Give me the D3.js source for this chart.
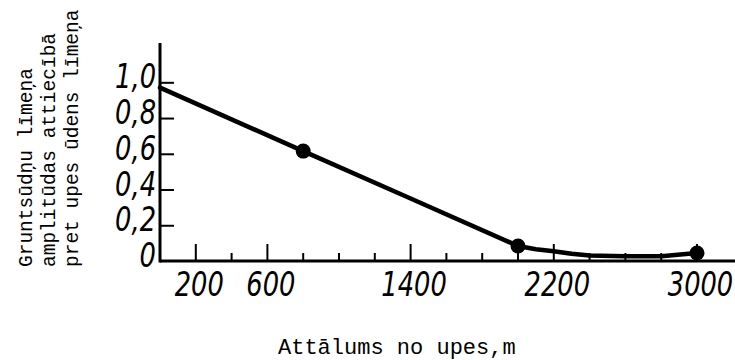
<!DOCTYPE html>
<html>
<head>
<meta charset="utf-8">
<script src="https://cdn.jsdelivr.net/npm/d3@7"></script>
<style>
  body { margin: 0; background: #fff; }
  .num { font-family: "DejaVu Sans", sans-serif; font-style: italic; font-size: 33px; fill: #000; }
  .title { font-family: "Liberation Mono", "DejaVu Sans Mono", monospace; fill: #000; }
</style>
</head>
<body>
<svg id="chart" width="735" height="360"></svg>
<script>
// distance from river (m) and relative amplitude
const lineDist = [0, 800, 1400, 2000, 2100, 2200, 2300, 2400, 2600, 2800, 3000];
const lineAmp  = [0.97, 0.615, 0.35, 0.084, 0.066, 0.054, 0.04, 0.031, 0.026, 0.027, 0.045];
const pointDist = [800, 2000, 3000];
const pointAmp  = [0.615, 0.084, 0.045];

const yTicks = [0, 0.2, 0.4, 0.6, 0.8, 1.0];
const yTickLabels = ['0', '0,2', '0,4', '0,6', '0,8', '1,0'];
const xMinorTicks = d3.range(200, 3001, 200);
const xLabelTicks = [200, 600, 1400, 2200, 3000];

const yTitle = ['Gruntsūdņu līmeņa', 'amplitūdas attiecībā', 'pret upes ūdens līmeņa'];
const xTitle = 'Attālums no upes,m';

const svg = d3.select('#chart');

const xScale = d3.scaleLinear().domain([0, 3000]).range([160, 697]);
const yScale = d3.scaleLinear().domain([0, 1.22]).range([261, 43]);
const squeeze = 'scale(0.78,1)';

// axis lines
svg.append('line')
    .attr('x1', xScale(0)).attr('x2', 735)
    .attr('y1', yScale(0)).attr('y2', yScale(0))
    .attr('stroke', '#000').attr('stroke-width', 3);
svg.append('line')
    .attr('x1', xScale(0)).attr('x2', xScale(0))
    .attr('y1', yScale(0) + 1.5).attr('y2', yScale(1.22))
    .attr('stroke', '#000').attr('stroke-width', 3);

// y ticks (drawn inside) and labels
const yAxis = d3.axisRight(yScale)
    .tickValues(yTicks.filter(d => d > 0))
    .tickSize(14)
    .tickFormat('');
svg.append('g')
    .attr('transform', `translate(${xScale(0)},0)`)
    .call(yAxis)
    .call(g => g.select('.domain').remove())
    .call(g => g.selectAll('.tick line').attr('stroke-width', 2));

svg.append('g').selectAll('text')
    .data(yTicks)
    .join('text')
    .attr('class', 'num')
    .attr('text-anchor', 'end')
    .attr('transform', d => `translate(156,${yScale(d) + 6}) ${squeeze}`)
    .text((d, i) => yTickLabels[i]);

// x ticks (upward), long at labelled positions
const xAxisG = svg.append('g')
    .attr('transform', `translate(0,${yScale(0)})`);
xAxisG.selectAll('line')
    .data(xMinorTicks)
    .join('line')
    .attr('x1', d => xScale(d)).attr('x2', d => xScale(d))
    .attr('y1', 0)
    .attr('y2', d => xLabelTicks.includes(d) ? -17 : -8)
    .attr('stroke', '#000')
    .attr('stroke-width', 2);

const xAxis = d3.axisBottom(xScale)
    .tickValues(xLabelTicks)
    .tickSize(0)
    .tickPadding(0)
    .tickFormat(d3.format('d'));
svg.append('g')
    .attr('transform', `translate(3,${yScale(0)})`)
    .call(xAxis)
    .call(g => g.select('.domain').remove())
    .call(g => g.selectAll('text')
        .attr('class', 'num')
        .attr('font-size', null)
        .attr('font-family', null)
        .attr('fill', null)
        .attr('y', 35)
        .attr('dy', null)
        .attr('transform', squeeze));

// data line
const line = d3.line()
    .x(d => xScale(d[0]))
    .y(d => yScale(d[1]));
svg.append('path')
    .datum(d3.zip(lineDist, lineAmp))
    .attr('d', line)
    .attr('fill', 'none')
    .attr('stroke', '#000')
    .attr('stroke-width', 4.5)
    .attr('stroke-linejoin', 'round')
    .attr('stroke-linecap', 'round');

svg.append('g').selectAll('circle')
    .data(d3.zip(pointDist, pointAmp))
    .join('circle')
    .attr('cx', d => xScale(d[0]))
    .attr('cy', d => yScale(d[1]))
    .attr('r', 7.5)
    .attr('fill', '#000');

// titles
svg.append('text')
    .attr('class', 'title')
    .attr('x', 278).attr('y', 354)
    .attr('font-size', 22)
    .text(xTitle);

svg.append('g').selectAll('text')
    .data(yTitle)
    .join('text')
    .attr('class', 'title')
    .attr('font-size', 19.5)
    .attr('transform', (d, i) => `translate(${32 + i * 23},267) rotate(-90)`)
    .text(d => d);
</script>
</body>
</html>
